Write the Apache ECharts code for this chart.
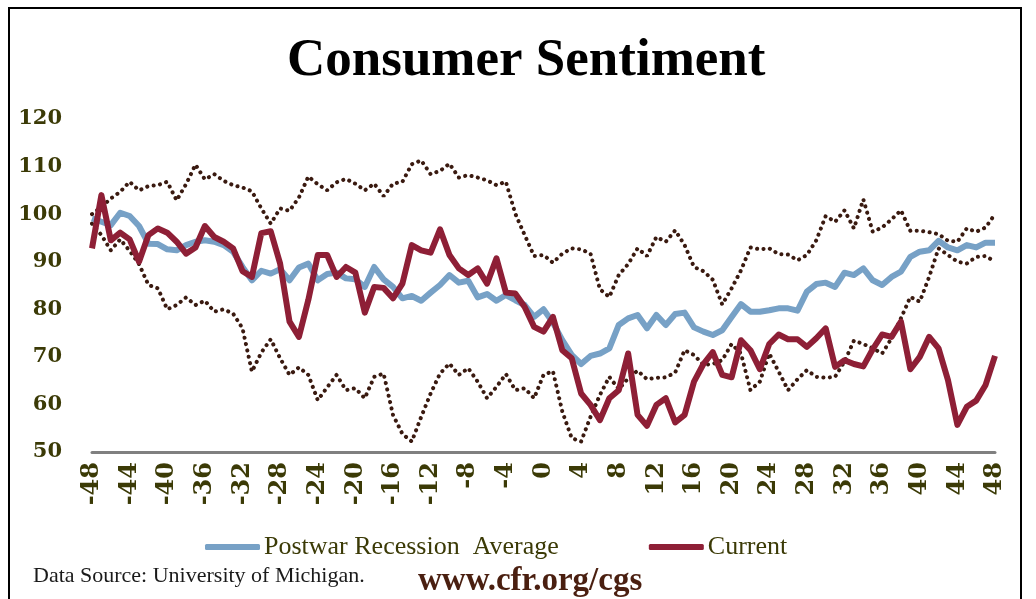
<!DOCTYPE html>
<html>
<head>
<meta charset="utf-8">
<script src="https://cdn.jsdelivr.net/npm/echarts@6/dist/echarts.min.js"></script>
<style>
  html, body { margin: 0; padding: 0; background: #fff; }
  #chart { width: 1036px; height: 599px; }
</style>
</head>
<body>
<div id="chart"></div>
<script>
// months relative to the start of the recession
const months = [
  -48, -47, -46, -45, -44, -43, -42, -41, -40, -39, -38, -37, -36, -35, -34, -33,
  -32, -31, -30, -29, -28, -27, -26, -25, -24, -23, -22, -21, -20, -19, -18, -17,
  -16, -15, -14, -13, -12, -11, -10, -9, -8, -7, -6, -5, -4, -3, -2, -1,
  0, 1, 2, 3, 4, 5, 6, 7, 8, 9, 10, 11, 12, 13, 14, 15, 16,
  17, 18, 19, 20, 21, 22, 23, 24, 25, 26, 27, 28, 29, 30, 31, 32,
  33, 34, 35, 36, 37, 38, 39, 40, 41, 42, 43, 44, 45, 46, 47, 48
]

const postwarAvg = [
  99.1, 98.4, 97.7, 100.3, 99.6, 97.5, 93.8, 93.7, 92.6, 92.4, 93.5, 94.2, 94.5, 94.2, 93.5, 92.1,
  88.9, 86.1, 88.1, 87.5, 88.4, 86.1, 88.8, 89.6, 86.1, 87.4, 87.7, 86.5, 86.3, 84.7, 88.9, 86.3,
  84.7, 82.3, 82.8, 81.8, 83.5, 85.1, 87.2, 85.6, 86, 82.5, 83.2, 81.8, 83, 81.9, 80.9, 78.4,
  80, 77.2, 73.5, 70.4, 68.5, 70.2, 70.7, 71.8, 76.7, 78.1, 78.8, 76, 78.8, 76.7, 79, 79.3, 76.2,
  75.3, 74.6, 75.6, 78.4, 81.1, 79.5, 79.5, 79.8, 80.2, 80.2, 79.7, 83.7, 85.3, 85.6, 84.7, 87.7,
  87.2, 88.6, 86.1, 85.1, 86.8, 87.9, 91, 92.1, 92.4, 94.4, 93, 92.4, 93.5, 93, 94, 94
]

const current = [
  92.8, 104, 94.5, 96.1, 94.7, 90, 95.6, 97, 96.1, 94.2, 91.7, 93, 97.5, 95.2, 94.2, 92.8,
  88, 86.8, 96, 96.4, 89.6, 77.4, 74.2, 82, 91.4, 91.4, 86.8, 88.9, 87.7, 79.3, 84.7, 84.5,
  82.3, 85.4, 93.5, 92.4, 91.9, 96.8, 91.4, 88.6, 87.2, 88.6, 85.4, 90.7, 83.5, 83.3, 80.5, 76.3,
  75.3, 78.4, 71.4, 69.7, 62.3, 59.9, 56.7, 61.3, 63, 70.7, 57.8, 55.5, 59.9, 61.3, 56.2, 57.8, 64.8,
  68.5, 71, 66.2, 65.7, 73.5, 71.4, 67.4, 72.7, 74.7, 73.7, 73.7, 72.1, 73.9, 76, 67.9, 69.3,
  68.5, 68, 71.6, 74.7, 74.2, 77.4, 67.4, 70, 74.2, 71.8, 65.1, 55.7, 59.5, 60.8, 64.1, 70.2
]

// range of past recessions (dotted)
const rangeHigh = [
  100, 101.5, 103.3, 104.7, 106.8, 105, 105.9, 106.1, 106.8, 102.9, 106.3, 110.4, 107.3, 108.4, 107, 106.1,
  105.6, 104.8, 101.2, 98, 101.2, 100.7, 103.5, 107.9, 106.3, 105, 106.7, 107.4, 106.4, 105, 106.4, 103.8,
  106.4, 106.8, 110.5, 111.3, 108.4, 109.1, 110.6, 107.7, 108.2, 107.7, 107.1, 106.1, 106.8, 100.1, 95.6, 91.2,
  91.4, 89.8, 91.7, 92.8, 92.6, 91.7, 84.2, 82.6, 87.2, 89.5, 92.8, 91.2, 95.2, 94.2, 96.6, 93.5, 88.9,
  88, 86.2, 81, 84.4, 88.2, 93, 92.6, 92.8, 91.6, 91.5, 90.3, 91.4, 94.5, 99.6, 98.4, 100.8,
  97, 103.1, 96.3, 97.2, 98.9, 100.8, 96.5, 96.5, 96.2, 95.8, 94.4, 94.2, 97, 96.3, 97.2, 100
]

const rangeLow = [
  98, 95.6, 92.4, 94.7, 92.3, 89.5, 85.1, 84.4, 80, 80.9, 82.5, 80.9, 81.8, 79.5, 80, 79.1,
  76, 66.9, 70.9, 73.7, 69.7, 66.2, 67.8, 66.2, 60.9, 63.6, 66.2, 63, 63.4, 61.3, 65.8, 66.5,
  57.8, 53.8, 52.2, 57.4, 62.3, 66.5, 68.6, 66.2, 67.6, 64.8, 61.3, 63.7, 66.4, 63, 63.4, 61.3,
  66.2, 67, 58.5, 52.9, 52.2, 57.4, 62, 65.8, 63.2, 65.5, 67.1, 65.3, 65.6, 65.7, 66.7, 71.4, 70.4,
  68.3, 68.5, 69.3, 72.7, 70.7, 63, 64.8, 70.7, 66.9, 63, 65.3, 67.2, 65.8, 65.6, 65.8, 69,
  73.4, 72.7, 71.8, 70.7, 73.9, 78.1, 82.6, 81.6, 86.8, 92.8, 91.4, 90, 89.6, 91, 91.2, 90
]

const olive = '#3b3a06'
const dotStyle = {
  color: '#3a1a10',
  width: 4,
  type: [0.1, 6.4],
  cap: 'round'
}

const chart = echarts.init(document.getElementById('chart'))

chart.setOption({
  backgroundColor: '#fff',
  animation: false,
  grid: { left: 92, right: 41, top: 119, bottom: 147 },
  graphic: [
    {
      type: 'polyline',
      shape: { points: [[9, 640], [9, 8], [1021, 8], [1021, 640]] },
      style: { stroke: '#000', lineWidth: 2, fill: null }
    },
    {
      type: 'text', left: 287, top: 35,
      style: {
        text: 'Consumer Sentiment',
        font: 'bold 53px "Liberation Serif", serif',
        fill: '#000'
      }
    },
    {
      type: 'text', left: 33, top: 565,
      style: {
        text: 'Data Source: University of Michigan.',
        font: '22px "Liberation Serif", serif',
        fill: '#1a1a1a'
      }
    },
    {
      type: 'text', left: 418, top: 565,
      style: {
        text: 'www.cfr.org/cgs',
        font: 'bold 33px "Liberation Serif", serif',
        fill: '#4a1f10'
      }
    }
  ],
  legend: {
    left: 200,
    top: 529,
    itemGap: 90,
    itemWidth: 55,
    itemHeight: 6,
    icon: 'roundRect',
    data: ['Postwar Recession  Average', 'Current'],
    textStyle: {
      fontFamily: '"Liberation Serif", serif',
      fontSize: 26,
      color: olive,
      padding: [0, 0, 0, -1]
    }
  },
  xAxis: {
    type: 'category',
    data: months,
    boundaryGap: false,
    axisLine: { lineStyle: { color: '#808080', width: 3 } },
    axisTick: { show: false },
    axisLabel: {
      interval: 3,
      rotate: 90,
      margin: 10,
      color: olive,
      fontFamily: '"DejaVu Serif", serif',
      fontWeight: 'bold',
      fontSize: 24
    },
    splitLine: { show: false }
  },
  yAxis: {
    type: 'value',
    min: 50,
    max: 120,
    interval: 10,
    axisLine: { show: false },
    axisTick: { show: false },
    splitLine: { show: false },
    axisLabel: {
      margin: 30,
      color: olive,
      fontFamily: '"DejaVu Serif", serif',
      fontWeight: 'bold',
      fontSize: 21
    }
  },
  series: [
    {
      name: 'High',
      type: 'line',
      data: rangeHigh,
      showSymbol: false,
      lineStyle: dotStyle,
      z: 1
    },
    {
      name: 'Low',
      type: 'line',
      data: rangeLow,
      showSymbol: false,
      lineStyle: dotStyle,
      z: 1
    },
    {
      name: 'Postwar Recession  Average',
      type: 'line',
      data: postwarAvg,
      showSymbol: false,
      itemStyle: { color: '#77a1c6' },
      lineStyle: { color: '#77a1c6', width: 6, join: 'round' },
      z: 2
    },
    {
      name: 'Current',
      type: 'line',
      data: current,
      showSymbol: false,
      itemStyle: { color: '#8e1f36' },
      lineStyle: { color: '#8e1f36', width: 6, join: 'round' },
      z: 3
    }
  ]
})
</script>
</body>
</html>
